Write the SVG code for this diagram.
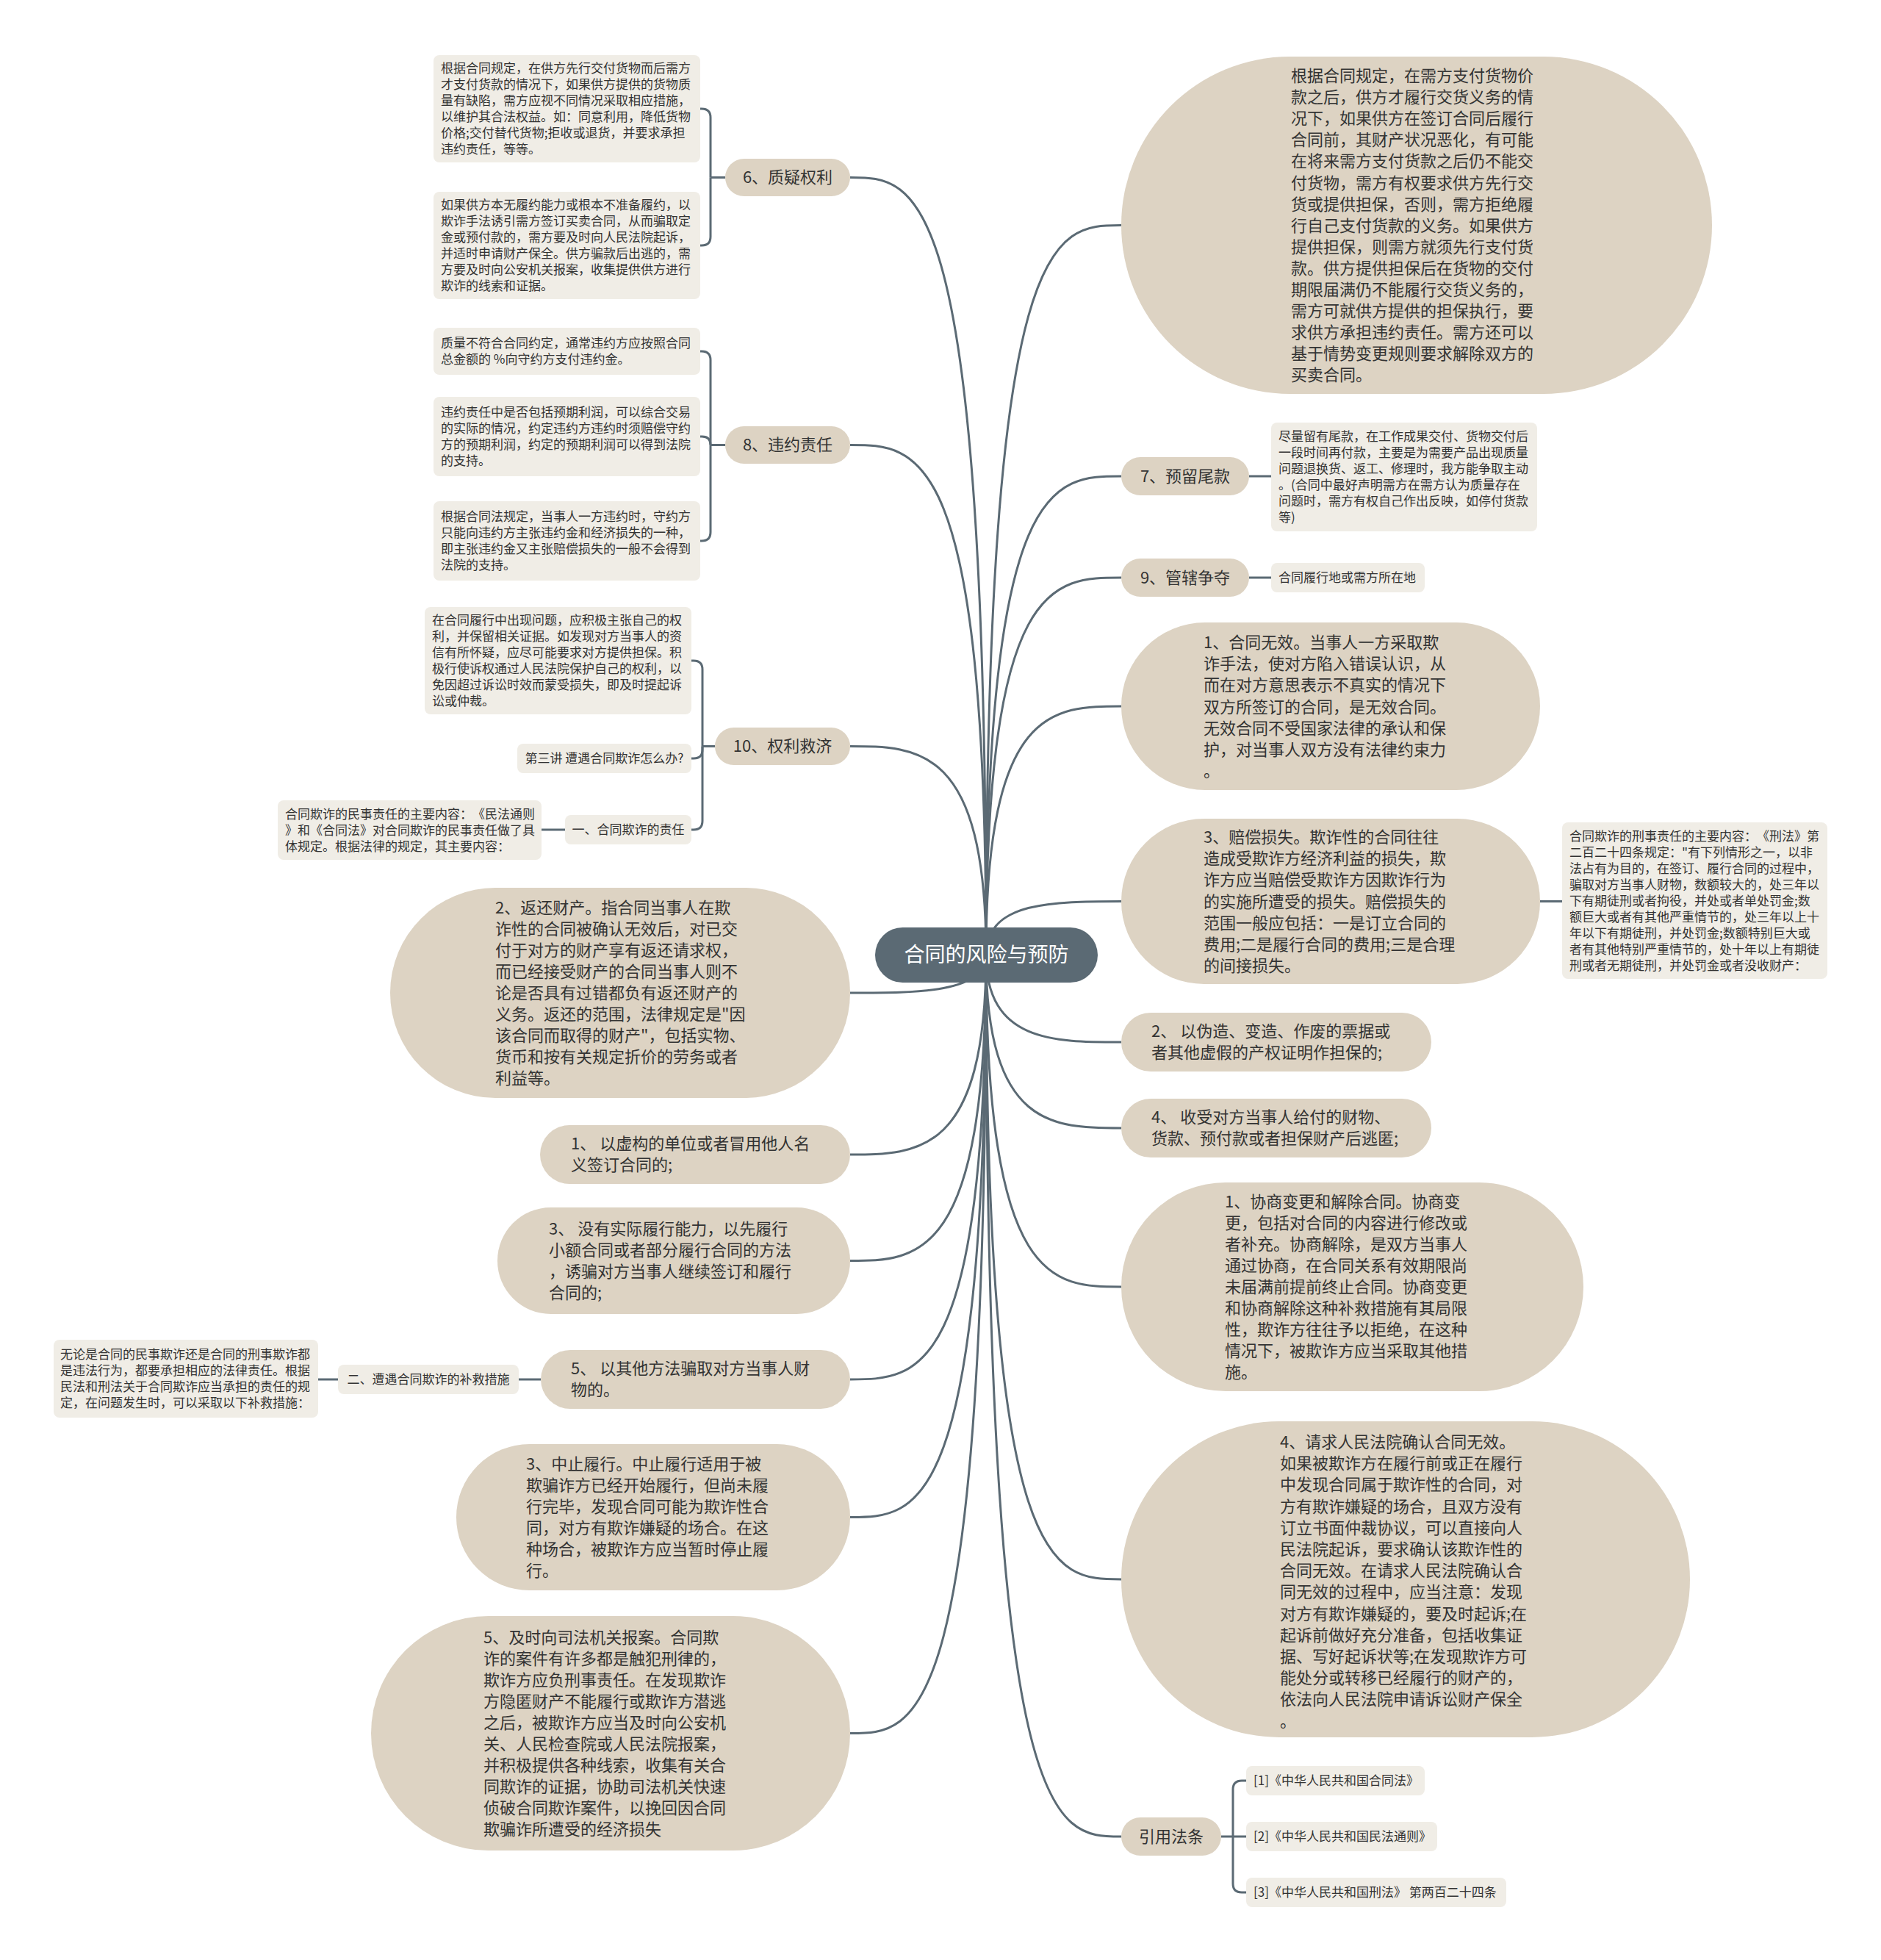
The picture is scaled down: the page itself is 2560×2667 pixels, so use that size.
<svg xmlns="http://www.w3.org/2000/svg" width="2560" height="2667" viewBox="0 0 2560 2667">
<style>
.bg{fill:#ffffff}
.n{fill:#ddd3c3}
.d{fill:#f0ede6}
.root{fill:#5b6a74}
.t{font-family:"Noto Sans CJK SC","Liberation Sans",sans-serif;fill:#333333;text-spacing-trim:space-all}
.big{font-size:22px}
.sm{font-size:17px}
.pl{font-size:22px;text-anchor:middle}
.rt{font-family:"Noto Sans CJK SC","Liberation Sans",sans-serif;font-size:28px;fill:#ffffff;text-anchor:middle}
.mid{text-anchor:middle}
.c{fill:none;stroke:#5b6a74;stroke-width:3}
</style>
<rect class="bg" x="0" y="0" width="2560" height="2667"/>
<g id="connectors">
<path class="c" d="M1342,1299 C1342,306.5 1434,306.5 1526,306.5"/>
<path class="c" d="M1342,1299 C1342,648 1434,648 1526,648"/>
<path class="c" d="M1342,1299 C1342,786 1434,786 1526,786"/>
<path class="c" d="M1342,1299 C1342,961 1434,961 1526,961"/>
<path class="c" d="M1342,1299 C1342,1226.5 1434,1226.5 1526,1226.5"/>
<path class="c" d="M1342,1299 C1342,1418 1434,1418 1526,1418"/>
<path class="c" d="M1342,1299 C1342,1535 1434,1535 1526,1535"/>
<path class="c" d="M1342,1299 C1342,1751 1434,1751 1526,1751"/>
<path class="c" d="M1342,1299 C1342,2149 1434,2149 1526,2149"/>
<path class="c" d="M1342,1299 C1342,2499 1434,2499 1526,2499"/>
<path class="c" d="M1342,1299 C1342,241.5 1249.5,241.5 1157,241.5"/>
<path class="c" d="M1342,1299 C1342,605.5 1249.5,605.5 1157,605.5"/>
<path class="c" d="M1342,1299 C1342,1015.5 1249.5,1015.5 1157,1015.5"/>
<path class="c" d="M1342,1299 C1342,1351 1249.5,1351 1157,1351"/>
<path class="c" d="M1342,1299 C1342,1571 1249.5,1571 1157,1571"/>
<path class="c" d="M1342,1299 C1342,1715.5 1249.5,1715.5 1157,1715.5"/>
<path class="c" d="M1342,1299 C1342,1877 1249.5,1877 1157,1877"/>
<path class="c" d="M1342,1299 C1342,2064.5 1249.5,2064.5 1157,2064.5"/>
<path class="c" d="M1342,1299 C1342,2358.5 1249.5,2358.5 1157,2358.5"/>
<path class="c" d="M1700,648 L1730,648"/>
<path class="c" d="M1700,786 L1730,786"/>
<path class="c" d="M2096,1226.5 L2126,1226.5"/>
<path class="c" d="M1662,2499 L1696,2499"/>
<path class="c" d="M1678,2499 L1678,2435 Q1678,2423 1690,2423 L1696,2423"/>
<path class="c" d="M1678,2499 L1678,2563 Q1678,2575 1690,2575 L1696,2575"/>
<path class="c" d="M987,241.5 L967,241.5"/>
<path class="c" d="M967,241.5 L967,160 Q967,148 955,148 L953,148"/>
<path class="c" d="M967,241.5 L967,322 Q967,334 955,334 L953,334"/>
<path class="c" d="M987,605.5 L967,605.5"/>
<path class="c" d="M967,605.5 L967,490 Q967,478 955,478 L953,478"/>
<path class="c" d="M967,605.5 Q967,594 955.5,594 L953,594"/>
<path class="c" d="M967,605.5 L967,724 Q967,736 955,736 L953,736"/>
<path class="c" d="M973,1015.5 L956,1015.5"/>
<path class="c" d="M956,1015.5 L956,911 Q956,899 944,899 L941,899"/>
<path class="c" d="M956,1015.5 L956,1020 Q956,1032 944,1032 L941,1032"/>
<path class="c" d="M956,1015.5 L956,1117 Q956,1129 944,1129 L941,1129"/>
<path class="c" d="M769,1129 L737,1129"/>
<path class="c" d="M736,1877 L706,1877"/>
<path class="c" d="M460,1877 L433,1877"/>
</g>

<g id="root">
<rect class="root" x="1191" y="1262" width="303" height="75" rx="37.5"/>
<text class="rt" x="1342.5" y="1309">合同的风险与预防</text>
</g>

<g id="r1">
<rect class="n" x="1526" y="77" width="804" height="459" rx="229.5"/>
<text class="t big" x="1757" y="111"><tspan x="1757">根据合同规定，在需方支付货物价</tspan><tspan x="1757" dy="29.1">款之后，供方才履行交货义务的情</tspan><tspan x="1757" dy="29.1">况下，如果供方在签订合同后履行</tspan><tspan x="1757" dy="29.1">合同前，其财产状况恶化，有可能</tspan><tspan x="1757" dy="29.1">在将来需方支付货款之后仍不能交</tspan><tspan x="1757" dy="29.1">付货物，需方有权要求供方先行交</tspan><tspan x="1757" dy="29.1">货或提供担保，否则，需方拒绝履</tspan><tspan x="1757" dy="29.1">行自己支付货款的义务。如果供方</tspan><tspan x="1757" dy="29.1">提供担保，则需方就须先行支付货</tspan><tspan x="1757" dy="29.1">款。供方提供担保后在货物的交付</tspan><tspan x="1757" dy="29.1">期限届满仍不能履行交货义务的，</tspan><tspan x="1757" dy="29.1">需方可就供方提供的担保执行，要</tspan><tspan x="1757" dy="29.1">求供方承担违约责任。需方还可以</tspan><tspan x="1757" dy="29.1">基于情势变更规则要求解除双方的</tspan><tspan x="1757" dy="29.1">买卖合同。</tspan></text>
</g>

<g id="r7">
<rect class="n" x="1526" y="622" width="174" height="52" rx="26"/>
<text class="t pl" x="1613" y="656">7、预留尾款</text>
</g>
<g id="r7-d">
<rect class="d" x="1730" y="575" width="362" height="148" rx="8"/>
<text class="t sm" x="1740" y="600"><tspan x="1740">尽量留有尾款，在工作成果交付、货物交付后</tspan><tspan x="1740" dy="22">一段时间再付款，主要是为需要产品出现质量</tspan><tspan x="1740" dy="22">问题退换货、返工、修理时，我方能争取主动</tspan><tspan x="1740" dy="22">。(合同中最好声明需方在需方认为质量存在</tspan><tspan x="1740" dy="22">问题时，需方有权自己作出反映，如停付货款</tspan><tspan x="1740" dy="22">等)</tspan></text>
</g>

<g id="r9">
<rect class="n" x="1526" y="760" width="174" height="52" rx="26"/>
<text class="t pl" x="1613" y="794">9、管辖争夺</text>
</g>
<g id="r9-d">
<rect class="d" x="1730" y="766" width="209" height="40" rx="8"/>
<text class="t sm" x="1740" y="792">合同履行地或需方所在地</text>
</g>

<g id="r4">
<rect class="n" x="1526" y="847" width="570" height="228" rx="114"/>
<text class="t big" x="1638" y="882"><tspan x="1638">1、合同无效。当事人一方采取欺</tspan><tspan x="1638" dy="29.2">诈手法，使对方陷入错误认识，从</tspan><tspan x="1638" dy="29.2">而在对方意思表示不真实的情况下</tspan><tspan x="1638" dy="29.2">双方所签订的合同，是无效合同。</tspan><tspan x="1638" dy="29.2">无效合同不受国家法律的承认和保</tspan><tspan x="1638" dy="29.2">护，对当事人双方没有法律约束力</tspan><tspan x="1638" dy="29.2">。</tspan></text>
</g>

<g id="r5">
<rect class="n" x="1526" y="1114" width="570" height="225" rx="112.5"/>
<text class="t big" x="1638" y="1147"><tspan x="1638">3、赔偿损失。欺诈性的合同往往</tspan><tspan x="1638" dy="29.2">造成受欺诈方经济利益的损失，欺</tspan><tspan x="1638" dy="29.2">诈方应当赔偿受欺诈方因欺诈行为</tspan><tspan x="1638" dy="29.2">的实施所遭受的损失。赔偿损失的</tspan><tspan x="1638" dy="29.2">范围一般应包括：一是订立合同的</tspan><tspan x="1638" dy="29.2">费用;二是履行合同的费用;三是合理</tspan><tspan x="1638" dy="29.2">的间接损失。</tspan></text>
</g>
<g id="r5-d">
<rect class="d" x="2126" y="1119" width="361" height="213" rx="8"/>
<text class="t sm" x="2136" y="1143.5"><tspan x="2136">合同欺诈的刑事责任的主要内容：《刑法》第</tspan><tspan x="2136" dy="22">二百二十四条规定："有下列情形之一，以非</tspan><tspan x="2136" dy="22">法占有为目的，在签订、履行合同的过程中，</tspan><tspan x="2136" dy="22">骗取对方当事人财物，数额较大的，处三年以</tspan><tspan x="2136" dy="22">下有期徒刑或者拘役，并处或者单处罚金;数</tspan><tspan x="2136" dy="22">额巨大或者有其他严重情节的，处三年以上十</tspan><tspan x="2136" dy="22">年以下有期徒刑，并处罚金;数额特别巨大或</tspan><tspan x="2136" dy="22">者有其他特别严重情节的，处十年以上有期徒</tspan><tspan x="2136" dy="22">刑或者无期徒刑，并处罚金或者没收财产：</tspan></text>
</g>

<g id="r6">
<rect class="n" x="1526" y="1378" width="422" height="80" rx="40"/>
<text class="t big" x="1567" y="1411"><tspan x="1567">2、 以伪造、变造、作废的票据或</tspan><tspan x="1567" dy="29">者其他虚假的产权证明作担保的;</tspan></text>
</g>

<g id="r7b">
<rect class="n" x="1526" y="1495" width="422" height="80" rx="40"/>
<text class="t big" x="1567" y="1528"><tspan x="1567">4、 收受对方当事人给付的财物、</tspan><tspan x="1567" dy="29">货款、预付款或者担保财产后逃匿;</tspan></text>
</g>

<g id="r8">
<rect class="n" x="1526" y="1609" width="629" height="284" rx="142"/>
<text class="t big" x="1667" y="1643"><tspan x="1667">1、协商变更和解除合同。协商变</tspan><tspan x="1667" dy="29">更，包括对合同的内容进行修改或</tspan><tspan x="1667" dy="29">者补充。协商解除，是双方当事人</tspan><tspan x="1667" dy="29">通过协商，在合同关系有效期限尚</tspan><tspan x="1667" dy="29">未届满前提前终止合同。协商变更</tspan><tspan x="1667" dy="29">和协商解除这种补救措施有其局限</tspan><tspan x="1667" dy="29">性，欺诈方往往予以拒绝，在这种</tspan><tspan x="1667" dy="29">情况下，被欺诈方应当采取其他措</tspan><tspan x="1667" dy="29">施。</tspan></text>
</g>

<g id="r9b">
<rect class="n" x="1526" y="1934" width="774" height="430" rx="215"/>
<text class="t big" x="1742" y="1970"><tspan x="1742">4、请求人民法院确认合同无效。</tspan><tspan x="1742" dy="29.2">如果被欺诈方在履行前或正在履行</tspan><tspan x="1742" dy="29.2">中发现合同属于欺诈性的合同，对</tspan><tspan x="1742" dy="29.2">方有欺诈嫌疑的场合，且双方没有</tspan><tspan x="1742" dy="29.2">订立书面仲裁协议，可以直接向人</tspan><tspan x="1742" dy="29.2">民法院起诉，要求确认该欺诈性的</tspan><tspan x="1742" dy="29.2">合同无效。在请求人民法院确认合</tspan><tspan x="1742" dy="29.2">同无效的过程中，应当注意：发现</tspan><tspan x="1742" dy="29.2">对方有欺诈嫌疑的，要及时起诉;在</tspan><tspan x="1742" dy="29.2">起诉前做好充分准备，包括收集证</tspan><tspan x="1742" dy="29.2">据、写好起诉状等;在发现欺诈方可</tspan><tspan x="1742" dy="29.2">能处分或转移已经履行的财产的，</tspan><tspan x="1742" dy="29.2">依法向人民法院申请诉讼财产保全</tspan><tspan x="1742" dy="29.2">。</tspan></text>
</g>

<g id="refs">
<rect class="n" x="1526" y="2473" width="136" height="52" rx="26"/>
<text class="t pl" x="1594" y="2507">引用法条</text>
</g>
<g id="ref1">
<rect class="d" x="1696" y="2403" width="243" height="40" rx="8"/>
<text class="t sm" x="1706" y="2429">[1]《中华人民共和国合同法》</text>
</g>
<g id="ref2">
<rect class="d" x="1696" y="2479" width="260" height="40" rx="8"/>
<text class="t sm" x="1706" y="2505">[2]《中华人民共和国民法通则》</text>
</g>
<g id="ref3">
<rect class="d" x="1696" y="2555" width="354" height="40" rx="8"/>
<text class="t sm" x="1706" y="2581">[3]《中华人民共和国刑法》 第两百二十四条</text>
</g>

<g id="l6">
<rect class="n" x="987" y="216" width="170" height="51" rx="25.5"/>
<text class="t pl" x="1072" y="249">6、质疑权利</text>
</g>
<g id="l6-a">
<rect class="d" x="590" y="75" width="363" height="146" rx="8"/>
<text class="t sm" x="600" y="99"><tspan x="600">根据合同规定，在供方先行交付货物而后需方</tspan><tspan x="600" dy="22">才支付货款的情况下，如果供方提供的货物质</tspan><tspan x="600" dy="22">量有缺陷，需方应视不同情况采取相应措施，</tspan><tspan x="600" dy="22">以维护其合法权益。如：同意利用，降低货物</tspan><tspan x="600" dy="22">价格;交付替代货物;拒收或退货，并要求承担</tspan><tspan x="600" dy="22">违约责任，等等。</tspan></text>
</g>
<g id="l6-b">
<rect class="d" x="590" y="261" width="363" height="146" rx="8"/>
<text class="t sm" x="600" y="285"><tspan x="600">如果供方本无履约能力或根本不准备履约，以</tspan><tspan x="600" dy="22">欺诈手法诱引需方签订买卖合同，从而骗取定</tspan><tspan x="600" dy="22">金或预付款的，需方要及时向人民法院起诉，</tspan><tspan x="600" dy="22">并适时申请财产保全。供方骗款后出逃的，需</tspan><tspan x="600" dy="22">方要及时向公安机关报案，收集提供供方进行</tspan><tspan x="600" dy="22">欺诈的线索和证据。</tspan></text>
</g>

<g id="l8">
<rect class="n" x="987" y="580" width="170" height="51" rx="25.5"/>
<text class="t pl" x="1072" y="613">8、违约责任</text>
</g>
<g id="l8-a">
<rect class="d" x="590" y="446" width="363" height="64" rx="8"/>
<text class="t sm" x="600" y="473"><tspan x="600">质量不符合合同约定，通常违约方应按照合同</tspan><tspan x="600" dy="22">总金额的 %向守约方支付违约金。</tspan></text>
</g>
<g id="l8-b">
<rect class="d" x="590" y="540" width="363" height="108" rx="8"/>
<text class="t sm" x="600" y="567"><tspan x="600">违约责任中是否包括预期利润，可以综合交易</tspan><tspan x="600" dy="22">的实际的情况，约定违约方违约时须赔偿守约</tspan><tspan x="600" dy="22">方的预期利润，约定的预期利润可以得到法院</tspan><tspan x="600" dy="22">的支持。</tspan></text>
</g>
<g id="l8-c">
<rect class="d" x="590" y="682" width="363" height="108" rx="8"/>
<text class="t sm" x="600" y="709"><tspan x="600">根据合同法规定，当事人一方违约时，守约方</tspan><tspan x="600" dy="22">只能向违约方主张违约金和经济损失的一种，</tspan><tspan x="600" dy="22">即主张违约金又主张赔偿损失的一般不会得到</tspan><tspan x="600" dy="22">法院的支持。</tspan></text>
</g>

<g id="l10">
<rect class="n" x="973" y="990" width="184" height="51" rx="25.5"/>
<text class="t pl" x="1065" y="1023">10、权利救济</text>
</g>
<g id="l10-a">
<rect class="d" x="578" y="826" width="363" height="146" rx="8"/>
<text class="t sm" x="588" y="850"><tspan x="588">在合同履行中出现问题，应积极主张自己的权</tspan><tspan x="588" dy="22">利，并保留相关证据。如发现对方当事人的资</tspan><tspan x="588" dy="22">信有所怀疑，应尽可能要求对方提供担保。积</tspan><tspan x="588" dy="22">极行使诉权通过人民法院保护自己的权利，以</tspan><tspan x="588" dy="22">免因超过诉讼时效而蒙受损失，即及时提起诉</tspan><tspan x="588" dy="22">讼或仲裁。</tspan></text>
</g>
<g id="l10-b">
<rect class="d" x="704" y="1012" width="237" height="40" rx="8"/>
<text class="t sm mid" x="822.5" y="1038">第三讲 遭遇合同欺诈怎么办?</text>
</g>
<g id="l10-c">
<rect class="d" x="769" y="1109" width="172" height="40" rx="8"/>
<text class="t sm mid" x="855" y="1135">一、合同欺诈的责任</text>
</g>
<g id="l10-c-a">
<rect class="d" x="378" y="1089" width="359" height="81" rx="8"/>
<text class="t sm" x="388" y="1113.5"><tspan x="388">合同欺诈的民事责任的主要内容：《民法通则</tspan><tspan x="388" dy="22">》和《合同法》对合同欺诈的民事责任做了具</tspan><tspan x="388" dy="22">体规定。根据法律的规定，其主要内容：</tspan></text>
</g>

<g id="l4">
<rect class="n" x="531" y="1208" width="626" height="286" rx="143"/>
<text class="t big" x="674" y="1243"><tspan x="674">2、返还财产。指合同当事人在欺</tspan><tspan x="674" dy="29">诈性的合同被确认无效后，对已交</tspan><tspan x="674" dy="29">付于对方的财产享有返还请求权，</tspan><tspan x="674" dy="29">而已经接受财产的合同当事人则不</tspan><tspan x="674" dy="29">论是否具有过错都负有返还财产的</tspan><tspan x="674" dy="29">义务。返还的范围，法律规定是"因</tspan><tspan x="674" dy="29">该合同而取得的财产"，包括实物、</tspan><tspan x="674" dy="29">货币和按有关规定折价的劳务或者</tspan><tspan x="674" dy="29">利益等。</tspan></text>
</g>

<g id="l5">
<rect class="n" x="735" y="1531" width="422" height="80" rx="40"/>
<text class="t big" x="777" y="1564"><tspan x="777">1、 以虚构的单位或者冒用他人名</tspan><tspan x="777" dy="29">义签订合同的;</tspan></text>
</g>

<g id="l6b">
<rect class="n" x="677" y="1643" width="480" height="145" rx="72.5"/>
<text class="t big" x="747" y="1680"><tspan x="747">3、 没有实际履行能力，以先履行</tspan><tspan x="747" dy="29">小额合同或者部分履行合同的方法</tspan><tspan x="747" dy="29">，诱骗对方当事人继续签订和履行</tspan><tspan x="747" dy="29">合同的;</tspan></text>
</g>

<g id="l7">
<rect class="n" x="736" y="1837" width="421" height="80" rx="40"/>
<text class="t big" x="777" y="1870"><tspan x="777">5、 以其他方法骗取对方当事人财</tspan><tspan x="777" dy="29">物的。</tspan></text>
</g>
<g id="l7-a">
<rect class="d" x="460" y="1857" width="246" height="40" rx="8"/>
<text class="t sm mid" x="583" y="1883">二、遭遇合同欺诈的补救措施</text>
</g>
<g id="l7-a-a">
<rect class="d" x="73" y="1823" width="360" height="106" rx="8"/>
<text class="t sm" x="82" y="1849"><tspan x="82">无论是合同的民事欺诈还是合同的刑事欺诈都</tspan><tspan x="82" dy="22">是违法行为，都要承担相应的法律责任。根据</tspan><tspan x="82" dy="22">民法和刑法关于合同欺诈应当承担的责任的规</tspan><tspan x="82" dy="22">定，在问题发生时，可以采取以下补救措施：</tspan></text>
</g>

<g id="l8b">
<rect class="n" x="621" y="1965" width="536" height="199" rx="99.5"/>
<text class="t big" x="716" y="2000"><tspan x="716">3、中止履行。中止履行适用于被</tspan><tspan x="716" dy="29">欺骗诈方已经开始履行，但尚未履</tspan><tspan x="716" dy="29">行完毕，发现合同可能为欺诈性合</tspan><tspan x="716" dy="29">同，对方有欺诈嫌疑的场合。在这</tspan><tspan x="716" dy="29">种场合，被欺诈方应当暂时停止履</tspan><tspan x="716" dy="29">行。</tspan></text>
</g>

<g id="l9">
<rect class="n" x="505" y="2199" width="652" height="319" rx="159.5"/>
<text class="t big" x="658" y="2236"><tspan x="658">5、及时向司法机关报案。合同欺</tspan><tspan x="658" dy="29">诈的案件有许多都是触犯刑律的，</tspan><tspan x="658" dy="29">欺诈方应负刑事责任。在发现欺诈</tspan><tspan x="658" dy="29">方隐匿财产不能履行或欺诈方潜逃</tspan><tspan x="658" dy="29">之后，被欺诈方应当及时向公安机</tspan><tspan x="658" dy="29">关、人民检查院或人民法院报案，</tspan><tspan x="658" dy="29">并积极提供各种线索，收集有关合</tspan><tspan x="658" dy="29">同欺诈的证据，协助司法机关快速</tspan><tspan x="658" dy="29">侦破合同欺诈案件，以挽回因合同</tspan><tspan x="658" dy="29">欺骗诈所遭受的经济损失</tspan></text>
</g>
</svg>
